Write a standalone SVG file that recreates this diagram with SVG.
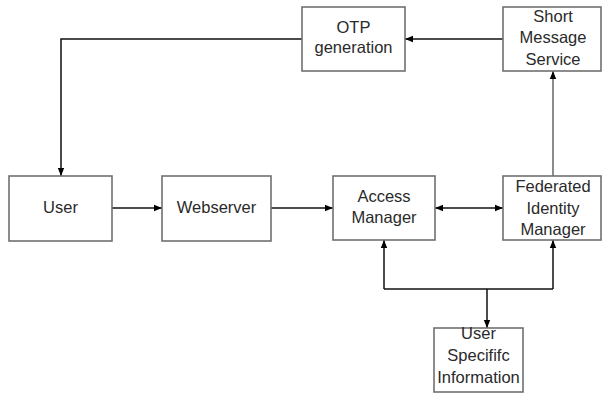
<svg xmlns="http://www.w3.org/2000/svg" width="602" height="394" viewBox="0 0 602 394">
<style>
.box{fill:#fff;stroke:#707070;stroke-width:1.6}
.t{font-family:"Liberation Sans",Arial,sans-serif;font-size:16.5px;fill:#2a2a2a;text-anchor:middle}
.c{fill:none;stroke:#111;stroke-width:1.5}
.g{fill:none;stroke:#666;stroke-width:1.5}
</style>
<defs>
<marker id="a" viewBox="0 0 10 10" refX="10" refY="5" markerWidth="8" markerHeight="8" markerUnits="userSpaceOnUse" orient="auto-start-reverse">
<path d="M0,1 L10,5 L0,9 Z" fill="#000"/>
</marker>
</defs>
<rect width="602" height="394" fill="#fff"/>
<g id="connectors">
<path class="c" d="M503,39 H405" marker-end="url(#a)"/>
<path class="c" d="M302,39 H61 V176" marker-end="url(#a)"/>
<path class="c" d="M112,208 H162" marker-end="url(#a)"/>
<path class="c" d="M271,208 H333" marker-end="url(#a)"/>
<path class="c" d="M435,208 H503" marker-start="url(#a)" marker-end="url(#a)"/>
<path class="g" d="M553,176 V71" marker-end="url(#a)"/>
<path class="c" d="M384,289 V240" marker-end="url(#a)"/>
<path class="c" d="M553,289 V240" marker-end="url(#a)"/>
<path class="c" d="M384,289 H553"/>
<path class="c" d="M487,289 V328" marker-end="url(#a)"/>
</g>
<g id="otp">
<rect class="box" x="302" y="7" width="103" height="64"/>
<text class="t" x="353.5" y="33">OTP</text>
<text class="t" x="353.5" y="53">generation</text>
</g>
<g id="sms">
<rect class="box" x="503" y="7" width="98" height="64"/>
<text class="t" x="553" y="22">Short</text>
<text class="t" x="553" y="43">Message</text>
<text class="t" x="553" y="65">Service</text>
</g>
<g id="user">
<rect class="box" x="9" y="176" width="103" height="65"/>
<text class="t" x="60.5" y="213">User</text>
</g>
<g id="webserver">
<rect class="box" x="162" y="176" width="109" height="65"/>
<text class="t" x="216.5" y="213">Webserver</text>
</g>
<g id="access-manager">
<rect class="box" x="333" y="176" width="102" height="64"/>
<text class="t" x="384" y="202">Access</text>
<text class="t" x="384" y="223">Manager</text>
</g>
<g id="fim">
<rect class="box" x="503" y="176" width="98" height="64"/>
<text class="t" x="553" y="192">Federated</text>
<text class="t" x="553" y="214">Identity</text>
<text class="t" x="553" y="235">Manager</text>
</g>
<g id="usi">
<rect class="box" x="434" y="328" width="89" height="64"/>
<text class="t" x="478.5" y="339">User</text>
<text class="t" x="478.5" y="361">Specififc</text>
<text class="t" x="478.5" y="383">Information</text>
</g>
</svg>
